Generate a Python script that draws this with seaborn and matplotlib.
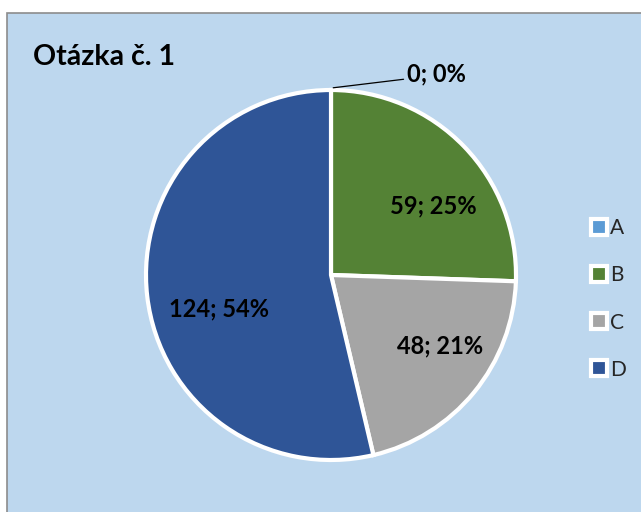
import matplotlib
matplotlib.use("Agg")
import matplotlib.pyplot as plt
import seaborn as sns
import numpy as np
from matplotlib.patches import Rectangle
from matplotlib.lines import Line2D

categories = ["A", "B", "C", "D"]
values = [0, 59, 48, 124]
percent_labels = ["0%", "25%", "21%", "54%"]
title = "Otázka č. 1"
colors = ["#5B9BD5", "#548235", "#A5A5A5", "#2F5597"]

# label placement tweaks (angle shift in degrees, radial distance as fraction of radius)
label_angle_shift = [0, -10, 6.4, 10.4]
label_radius = [1.0, 0.67, 0.70, 0.633]

sns.set_theme(style="white")
plt.rcParams["font.family"] = ["Lato", "DejaVu Sans"]

W, H = 641, 512
fig = plt.figure(figsize=(W / 100, H / 100), dpi=100)
fig.patch.set_facecolor("white")

# chart area background with border
bg = Rectangle((7 / W, -0.1), 1.2, 1 - 13 / H + 0.1, transform=fig.transFigure,
               facecolor="#BDD7EE", edgecolor="#8C8C8C", linewidth=1.2, zorder=-10)
fig.patches.append(bg)

R = 185.0
cx, cy = 331, 275
size = 400
ax = fig.add_axes([(cx - size / 2) / W, (H - cy - size / 2) / H, size / W, size / H])
ax.set_zorder(1)
ax.patch.set_alpha(0)
lim = size / 2 / R

wedges, _ = ax.pie(values, colors=colors, startangle=90, counterclock=False,
                   radius=1.0, wedgeprops=dict(edgecolor="white", linewidth=3),
                   center=(0, 0), frame=False)
ax.set_xlim(-lim, lim)
ax.set_ylim(-lim, lim)
ax.set_aspect("equal")
ax.axis("off")

total = sum(values)
start = 90.0
for v, p, da, lr in zip(values, percent_labels, label_angle_shift, label_radius):
    ang = v / total * 360
    mid = np.deg2rad(start - ang / 2 + da)
    start -= ang
    txt = f"{v}; {p}"
    if v == 0:
        ax.annotate(txt, xy=(0.012, 1.012), xytext=(0.41, 1.085),
                    ha="left", va="center", fontsize=17, fontweight="bold",
                    color="black", annotation_clip=False,
                    arrowprops=dict(arrowstyle="-", color="black", lw=0.9,
                                    shrinkA=0, shrinkB=0, relpos=(0, 0.3)))
    else:
        ax.text(lr * np.cos(mid), lr * np.sin(mid), txt, ha="center", va="center",
                fontsize=17, fontweight="bold", color="black")

fig.text(33 / W, 1 - 57 / H, title, ha="left", va="center", fontsize=20.5,
         fontweight="bold", color="black")

handles = [Line2D([0], [0], marker="s", linestyle="none", markersize=11,
                  markerfacecolor=c, markeredgecolor="white", markeredgewidth=3)
           for c in colors]
leg = fig.legend(handles, categories, loc="center left",
                 bbox_to_anchor=(583 / W, 1 - 299 / H), frameon=False,
                 fontsize=15, handlelength=0.7, handletextpad=0.2,
                 labelspacing=1.3, borderaxespad=0)

fig.savefig("out.png", dpi=100)
